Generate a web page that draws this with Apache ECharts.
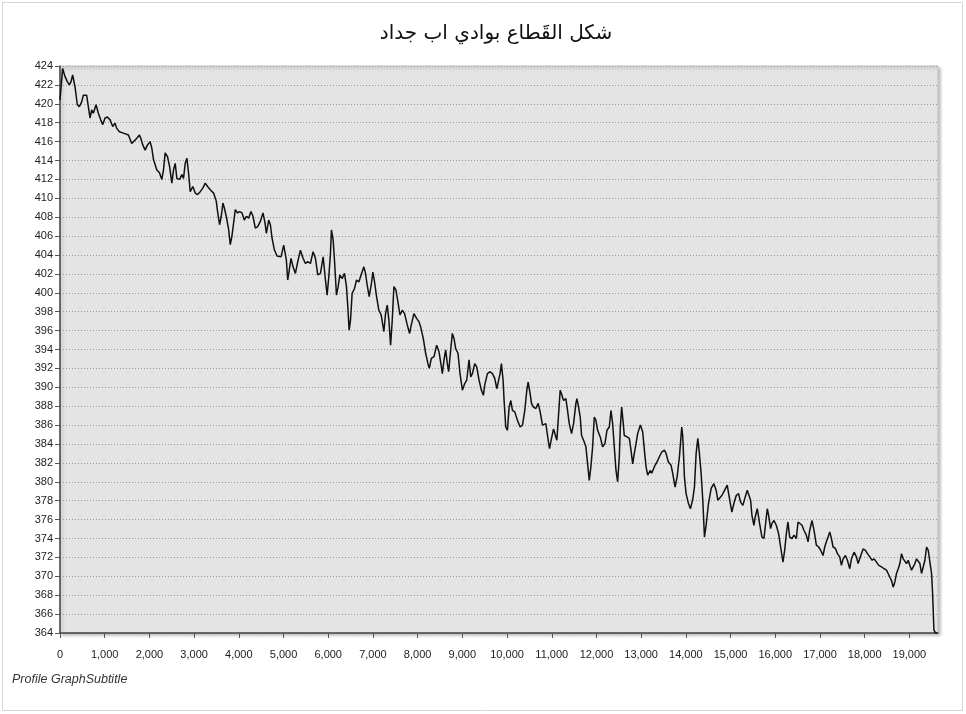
<!DOCTYPE html>
<html>
<head>
<meta charset="utf-8">
<script src="https://cdn.jsdelivr.net/npm/echarts@6/dist/echarts.min.js"></script>
<style>
  html, body { margin: 0; padding: 0; background: #fff; }
  #chart { width: 966px; height: 714px; }
</style>
</head>
<body>
<div id="chart"></div>
<script>
// profile distance (m) and elevation (m)
const distance = [
  0, 59, 111, 164, 209, 246, 283, 321, 336, 388, 433, 485, 522, 597, 634, 672, 709, 746, 806, 858,
  911, 956, 1008, 1060, 1120, 1180, 1232, 1269, 1329, 1419, 1531, 1605, 1643, 1718, 1777, 1807, 1852, 1904, 1957, 2016,
  2054, 2091, 2166, 2225, 2278, 2315, 2352, 2405, 2450, 2502, 2539, 2577, 2614, 2674, 2726, 2763, 2801, 2838, 2875, 2913,
  2972, 3025, 3077, 3137, 3197, 3249, 3301, 3361, 3436, 3495, 3525, 3570, 3607, 3645, 3675, 3719, 3772, 3809, 3846, 3884,
  3921, 3973, 4018, 4071, 4123, 4168, 4220, 4272, 4317, 4369, 4422, 4481, 4541, 4586, 4616, 4668, 4706, 4743, 4795, 4855,
  4944, 5004, 5064, 5094, 5139, 5168, 5213, 5266, 5318, 5378, 5437, 5490, 5542, 5602, 5661, 5714, 5766, 5826, 5886, 5938,
  5975, 6013, 6050, 6072, 6110, 6140, 6184, 6222, 6259, 6311, 6364, 6408, 6438, 6468, 6498, 6535, 6588, 6633, 6685, 6737,
  6797, 6834, 6872, 6916, 6961, 6998, 7036, 7081, 7133, 7185, 7245, 7282, 7320, 7357, 7395, 7432, 7469, 7514, 7559, 7604,
  7656, 7708, 7768, 7820, 7858, 7917, 7977, 8029, 8067, 8127, 8179, 8231, 8261, 8306, 8366, 8425, 8478, 8530, 8552, 8590,
  8627, 8664, 8694, 8739, 8776, 8814, 8851, 8903, 8948, 9001, 9053, 9098, 9150, 9187, 9225, 9277, 9322, 9374, 9426, 9471,
  9501, 9561, 9621, 9673, 9725, 9770, 9844, 9874, 9912, 9934, 9971, 10009, 10046, 10084, 10121, 10173, 10233, 10293, 10345, 10397,
  10442, 10472, 10517, 10547, 10591, 10644, 10696, 10741, 10793, 10831, 10868, 10905, 10950, 10995, 11040, 11070, 11114, 11144, 11189, 11219,
  11264, 11316, 11353, 11391, 11443, 11488, 11540, 11563, 11600, 11637, 11667, 11712, 11764, 11802, 11839, 11876, 11914, 11951, 11988, 12026,
  12085, 12138, 12190, 12235, 12287, 12325, 12362, 12399, 12437, 12474, 12511, 12534, 12564, 12593, 12623, 12683, 12735, 12773, 12810, 12847,
  12885, 12922, 12982, 13034, 13072, 13109, 13146, 13206, 13236, 13296, 13355, 13408, 13460, 13520, 13557, 13609, 13669, 13706, 13759, 13804,
  13856, 13908, 13931, 13968, 14005, 14058, 14102, 14155, 14192, 14229, 14267, 14304, 14341, 14379, 14416, 14453, 14506, 14566, 14625, 14678,
  14715, 14753, 14805, 14865, 14925, 14977, 15029, 15074, 15127, 15179, 15224, 15276, 15328, 15373, 15403, 15448, 15478, 15522, 15552, 15597,
  15649, 15702, 15747, 15784, 15821, 15851, 15896, 15926, 15971, 16023, 16075, 16120, 16172, 16210, 16247, 16284, 16322, 16374, 16419, 16471,
  16509, 16553, 16598, 16643, 16695, 16733, 16770, 16822, 16867, 16919, 16972, 17016, 17069, 17106, 17143, 17181, 17218, 17256, 17293, 17345,
  17390, 17442, 17480, 17517, 17569, 17614, 17666, 17704, 17763, 17816, 17853, 17913, 17965, 18017, 18062, 18115, 18167, 18212, 18264, 18316,
  18376, 18436, 18488, 18525, 18563, 18600, 18637, 18675, 18712, 18750, 18787, 18824, 18862, 18899, 18936, 18974, 19011, 19048, 19086, 19123,
  19160, 19198, 19235, 19272, 19310, 19347, 19384, 19422, 19459, 19496, 19519, 19549, 19586, 19631
];

const elevation = [
  420.4, 423.75, 422.9, 422.35, 422.0, 422.35, 423.05, 422.9, 421.8, 419.9, 419.7, 420.2, 420.9, 420.9, 419.7, 418.5, 419.35, 419.0, 419.9, 419.0,
  418.3, 417.8, 418.5, 418.6, 418.3, 417.6, 417.95, 417.4, 417.05, 416.9, 416.7, 415.8, 416.0, 416.35, 416.7, 416.35, 415.65, 415.1, 415.65, 416.0,
  415.3, 414.1, 413.0, 412.7, 412.0, 413.0, 414.8, 414.4, 413.4, 411.6, 413.0, 413.7, 412.1, 412.0, 412.5, 412.1, 413.7, 414.25, 412.7, 410.7,
  411.25, 410.55, 410.4, 410.7, 411.1, 411.6, 411.25, 410.9, 410.55, 409.7, 408.6, 407.2, 408.1, 409.5, 409.0, 408.1, 406.7, 405.1, 406.0, 407.4,
  408.8, 408.45, 408.6, 408.45, 407.7, 408.1, 407.9, 408.6, 408.1, 406.85, 407.0, 407.55, 408.45, 407.4, 406.3, 407.7, 407.2, 405.8, 404.55, 403.9,
  403.8, 405.05, 403.45, 401.35, 402.75, 403.65, 402.75, 402.05, 403.3, 404.5, 403.65, 403.1, 403.3, 403.1, 404.35, 403.65, 401.9, 402.05, 403.8, 401.35,
  399.75, 401.7, 404.2, 406.65, 405.6, 403.45, 399.75, 400.65, 401.9, 401.5, 402.05, 400.65, 398.5, 396.05, 397.1, 399.95, 400.45, 401.35, 401.15, 401.9,
  402.75, 402.05, 400.8, 399.6, 400.8, 402.2, 401.15, 399.6, 398.15, 397.65, 395.9, 397.8, 398.7, 397.1, 394.45, 397.1, 400.65, 400.3, 399.05, 397.65,
  398.15, 397.8, 396.6, 395.7, 396.6, 397.8, 397.3, 396.95, 396.4, 395.15, 393.6, 392.5, 392.0, 393.05, 393.25, 394.45, 393.75, 392.2, 391.45, 392.9,
  393.95, 392.5, 391.65, 393.95, 395.7, 395.15, 394.1, 393.6, 391.45, 389.7, 390.4, 390.75, 392.9, 391.1, 391.45, 392.5, 392.15, 390.75, 389.7, 389.15,
  390.25, 391.45, 391.65, 391.45, 390.95, 389.85, 391.45, 392.5, 390.75, 388.6, 385.8, 385.45, 387.9, 388.6, 387.55, 387.4, 386.5, 385.8, 386.0, 387.55,
  389.7, 390.55, 389.3, 388.3, 387.9, 387.75, 388.3, 387.4, 386.0, 385.8, 386.15, 384.9, 383.5, 384.6, 385.6, 385.8, 384.4, 386.5, 389.7, 389.3,
  388.6, 388.8, 387.55, 386.15, 385.1, 386.15, 388.3, 388.8, 387.9, 386.85, 384.9, 384.4, 383.7, 381.9, 380.15, 381.6, 383.7, 386.85, 386.5, 385.45,
  384.75, 383.7, 384.05, 385.45, 385.8, 387.55, 386.15, 383.7, 381.2, 380.0, 382.65, 385.8, 387.9, 386.5, 384.9, 384.75, 384.6, 383.35, 381.9, 383.0,
  384.05, 385.1, 386.0, 385.3, 383.35, 381.6, 380.7, 381.2, 380.9, 381.6, 382.1, 382.65, 383.15, 383.35, 383.0, 382.1, 381.75, 380.9, 379.45, 380.5,
  382.65, 385.8, 384.75, 380.5, 378.75, 377.7, 377.15, 378.2, 379.45, 382.95, 384.6, 382.95, 380.9, 378.05, 374.15, 375.4, 377.7, 379.3, 379.8, 379.1,
  378.05, 377.85, 378.55, 379.1, 379.65, 378.2, 376.8, 377.7, 378.55, 378.75, 377.85, 377.5, 378.4, 379.1, 379.3, 378.05, 376.45, 375.4, 376.3, 377.15,
  375.6, 374.15, 374.0, 375.6, 377.15, 376.45, 375.05, 375.6, 375.9, 375.4, 374.5, 373.1, 371.5, 372.75, 374.5, 375.75, 374.15, 374.0, 374.35, 374.0,
  375.75, 375.75, 375.4, 374.85, 374.35, 373.65, 374.85, 375.9, 374.85, 373.3, 373.1, 372.75, 372.2, 373.1, 373.65, 374.15, 374.7, 374.0, 373.1, 372.95,
  372.4, 372.05, 371.15, 371.85, 372.2, 371.7, 370.8, 371.85, 372.55, 372.05, 371.35, 372.2, 372.9, 372.75, 372.4, 372.05, 371.7, 371.85, 371.5, 371.15,
  371.0, 370.8, 370.65, 370.3, 369.9, 369.55, 368.85, 369.4, 370.3, 370.8, 371.35, 372.4, 371.85, 371.7, 371.35, 371.7, 371.15, 370.65, 370.45, 371.35,
  371.85, 372.05, 371.35, 370.3, 370.1, 371.7, 373.1, 372.75, 371.5, 370.3, 368.2, 364.3, 364.0, 364.0
];

const titleText = 'شكل القَطاع بوادي اب جداد';
const subtitleText = 'Profile GraphSubtitle';

const points = distance.map((d, i) => [d, elevation[i]]);
const labelFont = "'Liberation Sans Narrow', 'Arial Narrow', 'Liberation Sans', sans-serif";

const chart = echarts.init(document.getElementById('chart'), null, { renderer: 'canvas' });

chart.setOption({
  animation: false,
  backgroundColor: '#ffffff',
  title: {
    text: titleText,
    left: 491,
    top: 19,
    textAlign: 'center',
    textStyle: {
      fontFamily: "'DejaVu Sans', sans-serif",
      fontSize: 20,
      fontWeight: 'normal',
      color: '#111'
    }
  },
  grid: {
    left: 60,
    right: 28,
    top: 66,
    bottom: 81,
    show: true,
    backgroundColor: '#e4e4e4',
    borderColor: '#c4c4c4',
    borderWidth: 1,
    shadowColor: 'rgba(0,0,0,0.25)',
    shadowBlur: 3,
    shadowOffsetX: 2,
    shadowOffsetY: 2
  },
  xAxis: {
    type: 'value',
    min: 0,
    max: 19640,
    interval: 1000,
    splitLine: { show: false },
    axisLine: { show: true, onZero: false, lineStyle: { color: '#444', width: 1.5 } },
    axisTick: { show: true, length: 5, lineStyle: { color: '#555' } },
    axisLabel: {
      showMaxLabel: false,
      margin: 16,
      color: '#222',
      fontFamily: labelFont,
      fontSize: 11,
      formatter: v => (v % 1000 === 0 ? v.toLocaleString('en-US') : '')
    }
  },
  yAxis: {
    type: 'value',
    min: 364,
    max: 424,
    interval: 2,
    axisLine: { show: true, lineStyle: { color: '#444', width: 1.5 } },
    axisTick: { show: true, length: 5, lineStyle: { color: '#555' } },
    axisLabel: {
      margin: 7,
      color: '#222',
      fontFamily: labelFont,
      fontSize: 11
    },
    splitLine: {
      show: true,
      lineStyle: { color: '#9a9a9a', width: 1, type: [1, 2] }
    }
  },
  graphic: [
    {
      type: 'rect',
      silent: true,
      shape: { x: 2.5, y: 2.5, width: 960, height: 708 },
      style: { fill: 'none', stroke: '#d6d6d6', lineWidth: 1 }
    },
    {
      type: 'text',
      left: 12,
      top: 673,
      style: {
        text: subtitleText,
        fill: '#333',
        font: "italic 12.5px 'Liberation Sans Narrow', 'Arial Narrow', sans-serif"
      }
    }
  ],
  series: [
    {
      type: 'line',
      data: points,
      showSymbol: false,
      lineStyle: { color: '#111', width: 1.5 },
      z: 3
    }
  ]
});
</script>
</body>
</html>
